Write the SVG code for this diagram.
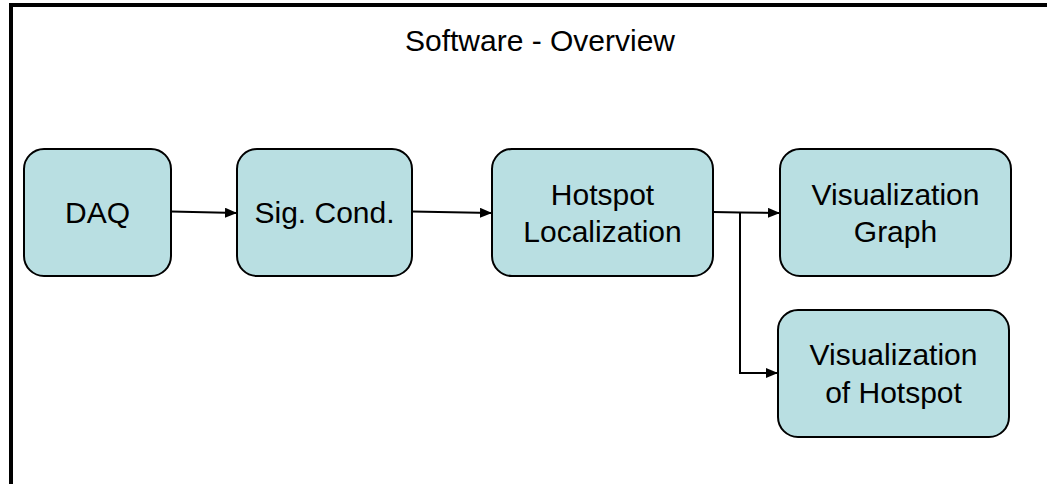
<svg xmlns="http://www.w3.org/2000/svg" width="1047" height="484" viewBox="0 0 1047 484">
  <style>
    .frame { fill: #ffffff; stroke: #000000; stroke-width: 4; }
    .node rect { fill: #b9dfe2; stroke: #000000; stroke-width: 2; }
    .label { font-family: "Liberation Sans", Arial, sans-serif; font-size: 30px; fill: #000000; text-anchor: middle; }
    .edge { fill: none; stroke: #000000; stroke-width: 2; }
  </style>
  <defs>
    <marker id="arrow" viewBox="0 0 12 10" refX="12" refY="5" markerWidth="12" markerHeight="10" markerUnits="userSpaceOnUse" orient="auto">
      <path d="M0,0 L12,5 L0,10 Z" fill="#000000"/>
    </marker>
  </defs>

  <!-- outer frame, running off the right and bottom edges -->
  <rect class="frame" x="11" y="5" width="1100" height="600"/>

  <text class="label" x="540" y="51">Software - Overview</text>

  <g id="node-daq" class="node">
    <rect x="24" y="149" width="147" height="127" rx="20" ry="20"/>
    <text class="label" x="97.5" y="223">DAQ</text>
  </g>

  <g id="node-sigcond" class="node">
    <rect x="237" y="149" width="175" height="127" rx="20" ry="20"/>
    <text class="label" x="324.5" y="223">Sig. Cond.</text>
  </g>

  <g id="node-hotspot" class="node">
    <rect x="492" y="149" width="221" height="127" rx="20" ry="20"/>
    <text class="label" x="602.5" y="205">Hotspot</text>
    <text class="label" x="602.5" y="242">Localization</text>
  </g>

  <g id="node-graph" class="node">
    <rect x="780" y="149" width="231" height="127" rx="20" ry="20"/>
    <text class="label" x="895.5" y="205">Visualization</text>
    <text class="label" x="895.5" y="242">Graph</text>
  </g>

  <g id="node-vishotspot" class="node">
    <rect x="778" y="310" width="231" height="127" rx="20" ry="20"/>
    <text class="label" x="893.5" y="365">Visualization</text>
    <text class="label" x="893.5" y="403">of Hotspot</text>
  </g>

  <g id="connectors">
    <path class="edge" d="M171,211.5 L237,213" marker-end="url(#arrow)"/>
    <path class="edge" d="M412,211.5 L492,213" marker-end="url(#arrow)"/>
    <path class="edge" d="M713,212 L740,212.5 L780,213" marker-end="url(#arrow)"/>
    <path class="edge" d="M740,212.5 L740,373 L778,373" marker-end="url(#arrow)"/>
  </g>
</svg>
